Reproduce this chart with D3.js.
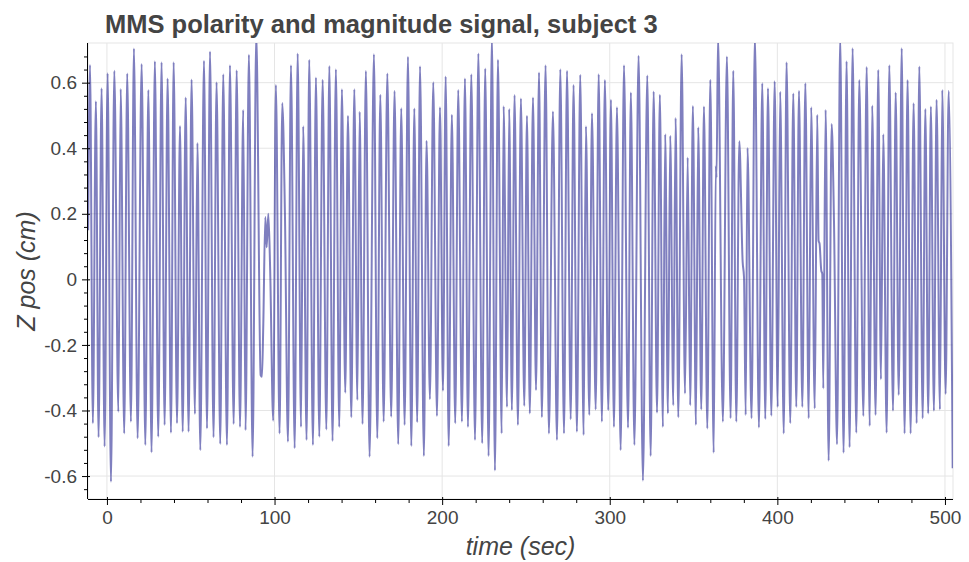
<!DOCTYPE html>
<html>
<head>
<meta charset="utf-8">
<script src="https://cdn.jsdelivr.net/npm/d3@7"></script>
<style>
  body { margin: 0; background: #fff; }
  svg { display: block; font-family: "Liberation Sans", Arial, Helvetica, sans-serif; }
</style>
</head>
<body>
<div id="chart"></div>
<script>
// peaks and troughs (time in sec, z position in cm)
var timeSec = [
  -11.2, -10.1, -8.4, -6.6, -5.0, -3.2, -1.4, 0.4, 2.4, 4.4, 6.8, 8.2, 10.3, 12.1, 14.3, 16.1, 18.3, 20.7, 22.9, 24.7,
  26.6, 28.6, 30.6, 32.6, 34.4, 36.2, 38.2, 39.8, 41.8, 43.6, 45.2, 47.0, 48.7, 50.5, 52.5, 54.0, 55.7, 57.9, 59.7, 61.5,
  63.6, 65.4, 67.6, 69.4, 71.6, 73.4, 75.6, 77.4, 79.4, 81.3, 82.7, 84.7, 86.9, 89.1, 91.7, 92.5, 93.3, 94.5, 95.3, 96.3,
  97.4, 99.2, 100.8, 103.0, 104.6, 106.2, 108.0, 109.8, 112.0, 113.8, 115.8, 117.1, 119.1, 120.7, 122.9, 124.7, 126.7, 128.7, 130.9, 132.7,
  134.6, 136.6, 138.6, 140.2, 142.2, 143.8, 145.8, 147.6, 149.4, 150.8, 152.5, 154.5, 156.7, 159.3, 161.3, 163.1, 165.1, 167.3, 169.6, 171.6,
  173.8, 175.6, 177.6, 179.6, 181.6, 183.4, 185.1, 186.8, 189.1, 190.7, 192.7, 194.7, 196.9, 198.7, 200.5, 202.1, 203.9, 205.8, 207.8, 209.6,
  211.8, 213.6, 215.4, 217.4, 219.6, 221.6, 223.9, 225.7, 227.7, 229.7, 231.5, 233.3, 235.5, 236.7, 238.7, 240.0, 241.6, 243.2, 245.2, 247.0,
  249.0, 250.6, 252.3, 254.2, 256.0, 257.8, 259.5, 261.7, 263.7, 266.1, 268.5, 270.5, 272.7, 274.5, 276.7, 278.4, 280.4, 282.4, 284.4, 285.8,
  287.8, 289.4, 291.6, 293.4, 295.3, 297.1, 299.1, 300.7, 302.5, 304.3, 306.5, 308.5, 310.9, 312.6, 314.7, 317.2, 319.8, 322.4, 324.4, 326.2,
  328.2, 329.9, 331.7, 333.1, 334.7, 336.1, 337.9, 339.3, 340.9, 342.9, 344.9, 346.5, 348.0, 349.6, 351.4, 352.8, 354.6, 356.2, 358.2, 360.0,
  362.0, 363.3, 363.7, 364.6, 367.5, 369.9, 372.1, 373.7, 375.5, 377.3, 379.3, 380.1, 381.1, 382.2, 384.6, 386.6, 389.0, 391.0, 392.8, 394.4,
  396.4, 398.4, 400.2, 401.7, 403.8, 405.5, 407.7, 409.5, 411.3, 412.9, 414.9, 416.7, 418.7, 420.2, 422.3, 423.8, 424.6, 425.2, 426.2, 426.8,
  427.4, 428.8, 430.6, 432.4, 433.8, 435.6, 437.5, 439.5, 441.3, 443.1, 444.9, 447.1, 448.9, 451.3, 453.3, 455.1, 456.6, 458.6, 460.2, 461.8,
  463.2, 465.2, 466.8, 469.0, 470.6, 472.4, 474.2, 475.9, 477.7, 479.5, 481.3, 483.1, 484.7, 486.7, 488.3, 490.0, 491.6, 493.4, 495.0, 497.0,
  498.4, 500.4, 502.2, 504.6
];
var zPos = [
  0.15, 0.654, -0.439, 0.543, -0.482, 0.583, -0.510, 0.629, -0.617, 0.636, -0.404, 0.581, -0.470, 0.628, -0.434, 0.704, -0.485, 0.657, -0.505, 0.578,
  -0.528, 0.665, -0.480, 0.662, -0.444, 0.613, -0.468, 0.662, -0.439, 0.468, -0.465, 0.555, -0.465, 0.610, -0.411, 0.416, -0.521, 0.667, -0.455, 0.695,
  -0.482, 0.601, -0.502, 0.626, -0.505, 0.653, -0.441, 0.638, -0.450, 0.517, -0.460, 0.685, -0.541, 0.75, -0.292, -0.297, -0.135, 0.190, 0.098, 0.200,
  0.027, -0.431, 0.593, -0.470, 0.538, 0.20, -0.495, 0.653, -0.515, 0.689, -0.450, 0.467, -0.490, 0.670, -0.505, 0.616, -0.480, 0.609, -0.458, 0.651,
  -0.493, 0.641, -0.450, 0.580, -0.346, 0.499, -0.421, 0.580, -0.368, 0.511, -0.441, 0.636, -0.541, 0.687, -0.485, 0.563, -0.434, 0.628, -0.419, 0.575,
  -0.503, 0.522, -0.444, 0.679, -0.508, 0.521, -0.436, 0.650, -0.539, 0.423, -0.366, 0.601, -0.417, 0.525, -0.340, 0.619, -0.508, 0.502, -0.439, 0.578,
  -0.434, 0.613, -0.450, 0.626, -0.490, 0.689, -0.500, 0.643, -0.539, 0.74, -0.583, 0.670, -0.470, 0.528, -0.389, 0.520, -0.399, 0.562, -0.444, 0.552,
  -0.386, 0.499, -0.409, 0.555, -0.338, 0.631, -0.421, 0.653, -0.470, 0.512, -0.490, 0.641, -0.470, 0.636, -0.427, 0.593, -0.465, 0.624, -0.475, 0.467,
  -0.414, 0.507, -0.397, 0.626, -0.434, 0.608, -0.399, 0.548, -0.450, 0.525, -0.521, 0.653, -0.453, 0.570, -0.505, 0.682, -0.614, 0.622, -0.539, 0.573,
  -0.407, 0.563, -0.450, 0.443, -0.409, 0.438, -0.384, 0.492, -0.421, 0.687, -0.348, 0.372, -0.384, 0.529, -0.444, 0.464, -0.397, 0.527, -0.455, 0.609,
  -0.529, 0.347, 0.31, 0.74, -0.434, 0.680, -0.424, 0.636, -0.434, 0.421, 0.053, 0.007, -0.414, 0.401, -0.424, 0.74, -0.452, 0.598, -0.426, 0.583,
  -0.416, 0.604, -0.389, 0.572, -0.470, 0.662, -0.439, 0.567, -0.389, 0.575, -0.389, 0.598, -0.424, 0.525, -0.394, 0.502, 0.118, 0.108, 0.027, 0.017,
  -0.333, 0.517, -0.553, 0.474, 0.175, -0.503, 0.74, -0.529, 0.665, -0.512, 0.705, -0.468, 0.608, -0.417, 0.648, -0.447, 0.530, -0.414, 0.639, -0.305,
  0.443, -0.468, 0.653, -0.401, 0.570, -0.353, 0.705, -0.470, 0.608, -0.470, 0.537, -0.439, 0.649, -0.424, 0.520, -0.409, 0.527, -0.401, 0.548, -0.397,
  0.578, -0.350, 0.575, -0.576
];
var xTicks = [0, 100, 200, 300, 400, 500];
var yTicks = [-0.6, -0.4, -0.2, 0, 0.2, 0.4, 0.6];
var titleText = "MMS polarity and magnitude signal, subject 3";
var xLabel = "time (sec)";
var yLabel = "Z pos (cm)";

var W = 969, H = 562;
var margin = {top: 43, right: 16, bottom: 63, left: 88},
    width = W - margin.left - margin.right,
    height = H - margin.top - margin.bottom;

var data = timeSec.map(function(t, i) { return {t: t, z: zPos[i]}; });

var x = d3.scaleLinear().domain([-11.3, 504.8]).range([0, width]);
var y = d3.scaleLinear().domain([-0.67, 0.721]).range([height, 0]);

var svg = d3.select("#chart").append("svg")
    .attr("width", W)
    .attr("height", H);

svg.append("text")
    .attr("x", 105)
    .attr("y", 33)
    .attr("fill", "#444")
    .style("font-size", "25.5px")
    .style("font-weight", "bold")
    .text(titleText);

var g = svg.append("g")
    .attr("transform", "translate(" + margin.left + "," + margin.top + ")");

g.append("defs").append("clipPath").attr("id", "clip")
  .append("rect").attr("width", width).attr("height", height);

// grid
g.append("g").selectAll("line").data(xTicks).enter().append("line")
    .attr("x1", function(d) { return x(d); }).attr("x2", function(d) { return x(d); })
    .attr("y1", 0).attr("y2", height)
    .attr("stroke", "#e5e5e5");
g.append("g").selectAll("line").data(yTicks).enter().append("line")
    .attr("y1", function(d) { return y(d); }).attr("y2", function(d) { return y(d); })
    .attr("x1", 0).attr("x2", width)
    .attr("stroke", "#e5e5e5");
g.append("rect")
    .attr("width", width).attr("height", height)
    .attr("fill", "none").attr("stroke", "#e5e5e5");

var line = d3.line()
    .x(function(d) { return x(d.t); })
    .y(function(d) { return y(d.z); })
    .curve(d3.curveMonotoneX);

g.append("path")
    .datum(data)
    .attr("clip-path", "url(#clip)")
    .attr("fill", "none")
    .attr("stroke", "navy")
    .attr("stroke-opacity", 0.5)
    .attr("stroke-width", 2)
    .attr("stroke-linejoin", "round")
    .attr("d", line);

// minor ticks
var xMinor = d3.range(20, 501, 20).filter(function(d) { return d % 100 !== 0; });
var yMinor = d3.range(-0.64, 0.72, 0.04).map(function(d) { return +d.toFixed(2); })
    .filter(function(d) { return Math.abs(Math.round(d * 5) - d * 5) > 1e-6; });

var xAxisG = g.append("g")
    .attr("transform", "translate(0," + height + ")")
    .call(d3.axisBottom(x).tickValues(xTicks).tickSize(6).tickPadding(6).tickFormat(function(d) { return String(d); }));
xAxisG.selectAll(".tick line").attr("y1", -2);
xAxisG.append("g").selectAll("line").data(xMinor).enter().append("line")
    .attr("x1", function(d) { return x(d) + 0.5; }).attr("x2", function(d) { return x(d) + 0.5; })
    .attr("y1", 0).attr("y2", 4).attr("stroke", "#000");

var yAxisG = g.append("g")
    .call(d3.axisLeft(y).tickValues(yTicks).tickSize(6).tickPadding(5).tickFormat(function(d) { return String(d); }));
yAxisG.selectAll(".tick line").attr("x1", 2);
yAxisG.append("g").selectAll("line").data(yMinor).enter().append("line")
    .attr("y1", function(d) { return y(d) + 0.5; }).attr("y2", function(d) { return y(d) + 0.5; })
    .attr("x1", 0).attr("x2", -4).attr("stroke", "#000");

[xAxisG, yAxisG].forEach(function(a) {
  a.select(".domain").attr("d", a === xAxisG ? "M0,0.5H" + width : "M-0.5,0V" + height).attr("stroke", "#000");
  a.selectAll(".tick text").attr("fill", "#444")
      .style("font-size", "19px")
      .style("font-family", "\"Liberation Sans\", Arial, sans-serif");
});

svg.append("text")
    .attr("x", margin.left + width / 2)
    .attr("y", 555)
    .attr("text-anchor", "middle")
    .attr("fill", "#444")
    .style("font-size", "25px")
    .style("font-style", "italic")
    .text(xLabel);

svg.append("text")
    .attr("transform", "translate(35," + (margin.top + height / 2) + ") rotate(-90)")
    .attr("text-anchor", "middle")
    .attr("fill", "#444")
    .style("font-size", "25px")
    .style("font-style", "italic")
    .text(yLabel);
</script>
</body>
</html>
